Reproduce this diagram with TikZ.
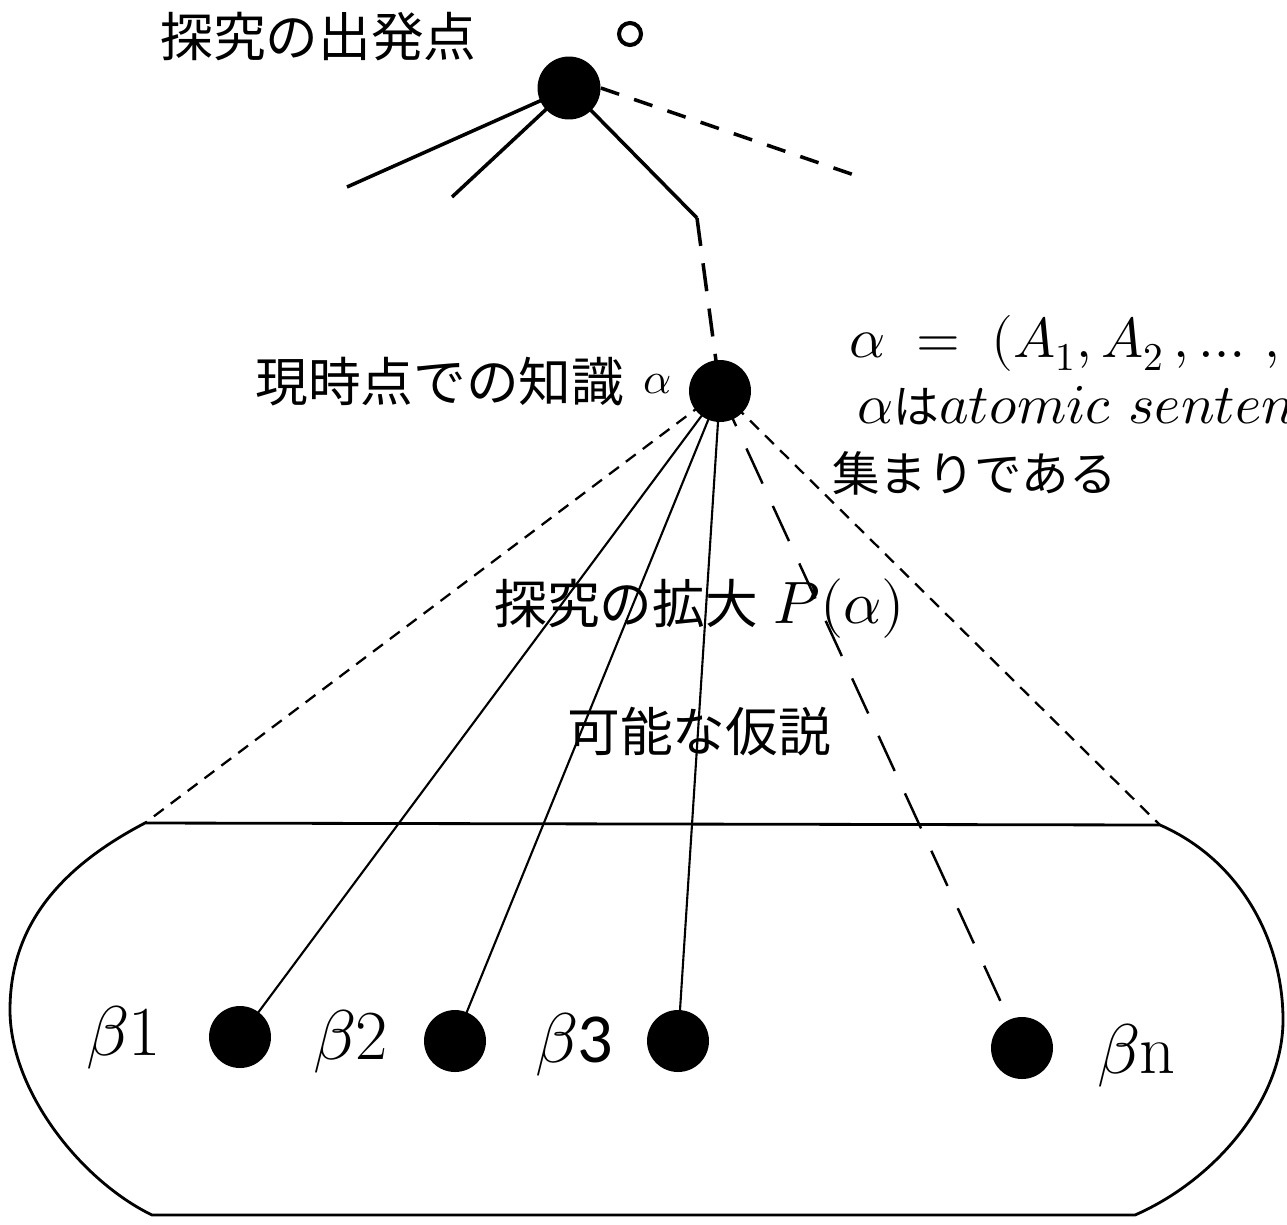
\documentclass[tikz,border=0pt]{standalone}
\usepackage{fontspec}
\usepackage{unicode-math}
\newfontfamily\jp{Noto Sans CJK JP}
\newfontfamily\carlito{Carlito}
\begin{document}
\begin{tikzpicture}[x=0.02cm,y=-0.02cm,
  dot/.style={circle, fill=black, inner sep=0, minimum size=1.24cm},
  ring/.style={circle, draw=black, line width=2.3pt, inner sep=0, minimum size=0.44cm},
  jptext/.style={inner sep=0, font=\jp\fontsize{30}{36}\selectfont},
  betalabel/.style={inner sep=0, anchor=base west, font=\fontsize{40}{46}\selectfont},
  thickline/.style={line width=2pt},
  thinline/.style={line width=1.2pt},
  shortdash/.style={line width=1.3pt, dash pattern=on 7pt off 5pt},
  longdash/.style={line width=1.4pt, dash pattern=on 22pt off 14pt},
  capsule/.style={line width=1.6pt, line join=round}]
\useasboundingbox (0,0) rectangle (1287,1224);
\clip (0,0) rectangle (1287,1224);

% dots
\node[dot, minimum size=1.26cm] (start) at (569,88) {};
\node[ring] (o) at (630,34) {};
\node[dot] (now) at (720,391) {};
\node[dot] (b1) at (240,1037) {};
\node[dot] (b2) at (455,1041) {};
\node[dot] (b3) at (678,1041) {};
\node[dot] (bn) at (1022,1048) {};

% free ends
\coordinate (e1) at (347,187);
\coordinate (e2) at (452,197);
\coordinate (e3) at (860,177);
\coordinate (kink) at (697,218);
\coordinate (tl) at (145,823);
\coordinate (tr) at (1160,825);
\coordinate (br) at (1135,1215);
\coordinate (bl) at (152,1215);

% labels
\node[jptext, anchor=west] (lstart) at (160,37) {探究の出発点};
\node[jptext, anchor=west] (lnow) at (255,382) {現時点での知識};
\node[inner sep=0, font=\fontsize{25}{30}\selectfont] (lalpha) at (658,384) {$\alpha$};
\node[inner sep=0, anchor=base west, font=\fontsize{32}{38}\selectfont] (m1) at (849,357) {$\alpha \;=\; (A_1, A_2\,, \ldots\,, A_n)$};
\node[inner sep=0, anchor=base west, font=\fontsize{32}{38}\selectfont] (m2) at (857,423) {$\alpha${\jp\fontsize{26}{31}\selectfont は}$atomic\ sentence$};
\node[inner sep=0, anchor=west, font=\jp\fontsize{27}{32}\selectfont] (m3) at (832,473) {集まりである};
\node[inner sep=0, anchor=base west, font=\fontsize{30}{36}\selectfont] (lexp) at (494,623) {{\jp 探究の拡大} {\fontsize{34}{40}\selectfont$P(\alpha)$}};
\node[jptext, anchor=west] (lhyp) at (567,732) {可能な仮説};
\node[betalabel] (lb1) at (86,1055) {$\beta$1};
\node[betalabel] (lb2) at (313,1059) {$\beta$2};
\node[betalabel] (lb3) at (535,1062) {$\beta${\carlito 3}};
\node[betalabel] (lbn) at (1097,1073) {$\beta$n};

% top connectors
\draw[thickline] (start.center) -- (e1);
\draw[thickline] (start.center) -- (e2);
\draw[thickline] (start.center) -- (kink);
\draw[thickline, dash pattern=on 16pt off 10pt] (kink) -- (now.center);
\draw[thickline, dash pattern=on 11pt off 9pt] (start.east) -- (e3);

% lower connectors
\draw[shortdash] (now.center) -- (tl);
\draw[shortdash] (now.center) -- (tr);
\draw[thinline] (now.center) -- (b1.center);
\draw[thinline] (now.center) -- (b2.center);
\draw[thinline] (now.center) -- (b3.center);
\draw[longdash] (now.center) -- (bn.center);

% capsule
\draw[capsule] (tl) -- (tr) .. controls (1240,860) and (1283,940) .. (1283,1020)
  .. controls (1283,1100) and (1215,1180) .. (br) -- (bl)
  .. controls (80,1180) and (10,1090) .. (10,1010)
  .. controls (10,930) and (55,870) .. (tl) -- cycle;
\end{tikzpicture}
\end{document}
